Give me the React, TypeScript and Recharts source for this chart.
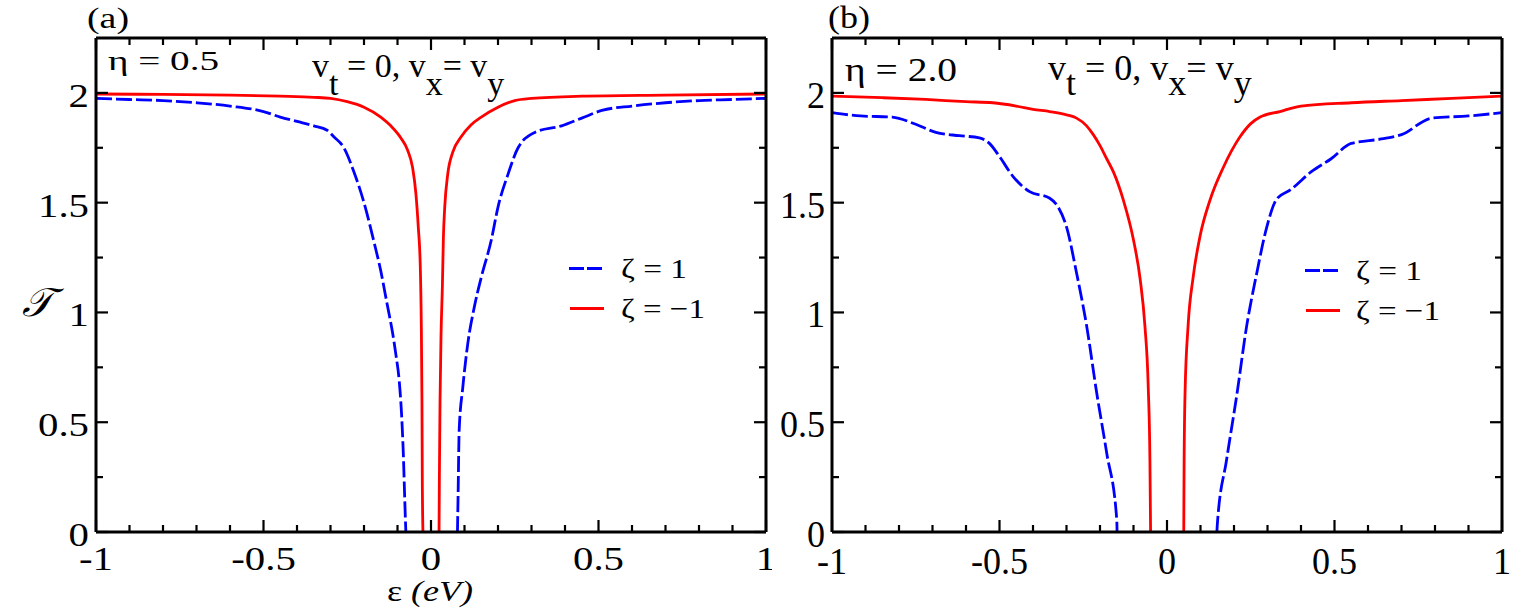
import React from 'react';
import { LineChart, Line, XAxis, YAxis } from 'recharts';

type Pt = [number, number];

const xTicks = [-1, -0.9, -0.8, -0.7, -0.6, -0.5, -0.4, -0.3, -0.2, -0.1, 0, 0.1, 0.2, 0.3, 0.4, 0.5, 0.6, 0.7, 0.8, 0.9, 1];
const yTicks = [0, 0.25, 0.5, 0.75, 1, 1.25, 1.5, 1.75, 2];

// panel (a): eta = 0.5
const aBlueLeft: Pt[] = [[-1.0, 1.975], [-0.9, 1.97], [-0.8, 1.965], [-0.7, 1.955], [-0.6, 1.94], [-0.5, 1.915], [-0.45, 1.89], [-0.4, 1.87], [-0.35, 1.85], [-0.31, 1.83], [-0.29, 1.8], [-0.26, 1.75], [-0.23, 1.64], [-0.2, 1.5], [-0.17, 1.32], [-0.15, 1.19], [-0.13, 1.03], [-0.115, 0.91], [-0.105, 0.81], [-0.095, 0.69], [-0.088, 0.54], [-0.082, 0.33], [-0.079, 0.18], [-0.076, 0.04], [-0.075, 0]];
const aBlueRight: Pt[] = [[0.079, 0], [0.081, 0.18], [0.084, 0.46], [0.095, 0.66], [0.11, 0.86], [0.13, 1.03], [0.15, 1.16], [0.18, 1.33], [0.2, 1.48], [0.23, 1.63], [0.26, 1.75], [0.31, 1.82], [0.39, 1.85], [0.45, 1.885], [0.51, 1.92], [0.6, 1.94], [0.7, 1.955], [0.8, 1.965], [0.9, 1.97], [1.0, 1.975]];
const aRedLeft: Pt[] = [[-1.0, 1.995], [-0.8, 1.993], [-0.6, 1.99], [-0.45, 1.985], [-0.35, 1.98], [-0.3, 1.975], [-0.25, 1.96], [-0.2, 1.935], [-0.15, 1.89], [-0.12, 1.85], [-0.09, 1.795], [-0.07, 1.74], [-0.055, 1.66], [-0.045, 1.54], [-0.038, 1.39], [-0.032, 1.21], [-0.029, 0.95], [-0.027, 0.6], [-0.026, 0.25], [-0.024, 0]];
const aRedRight: Pt[] = [[0.024, 0], [0.025, 0.25], [0.027, 0.6], [0.03, 0.9], [0.034, 1.12], [0.037, 1.34], [0.041, 1.48], [0.05, 1.63], [0.065, 1.73], [0.09, 1.8], [0.12, 1.855], [0.15, 1.89], [0.2, 1.935], [0.25, 1.965], [0.3, 1.975], [0.45, 1.985], [0.7, 1.99], [1.0, 1.995]];

// panel (b): eta = 2.0
const bBlueLeft: Pt[] = [[-1.0, 1.91], [-0.915, 1.895], [-0.82, 1.89], [-0.75, 1.857], [-0.69, 1.82], [-0.62, 1.805], [-0.56, 1.795], [-0.53, 1.77], [-0.5, 1.71], [-0.46, 1.62], [-0.41, 1.55], [-0.35, 1.52], [-0.325, 1.48], [-0.3, 1.39], [-0.27, 1.18], [-0.24, 0.94], [-0.21, 0.635], [-0.18, 0.36], [-0.15, 0.057], [-0.149, 0]];
const bBlueRight: Pt[] = [[0.149, 0], [0.15, 0.03], [0.178, 0.33], [0.208, 0.62], [0.238, 0.94], [0.268, 1.18], [0.298, 1.39], [0.327, 1.515], [0.37, 1.56], [0.43, 1.64], [0.49, 1.7], [0.55, 1.77], [0.64, 1.79], [0.7, 1.81], [0.79, 1.885], [0.9, 1.895], [1.0, 1.91]];
const bRedLeft: Pt[] = [[-1.0, 1.985], [-0.85, 1.978], [-0.72, 1.97], [-0.6, 1.96], [-0.52, 1.955], [-0.45, 1.94], [-0.4, 1.925], [-0.35, 1.915], [-0.3, 1.9], [-0.27, 1.885], [-0.24, 1.85], [-0.22, 1.81], [-0.2, 1.76], [-0.18, 1.7], [-0.16, 1.64], [-0.13, 1.51], [-0.1, 1.33], [-0.08, 1.15], [-0.066, 0.94], [-0.056, 0.66], [-0.051, 0.33], [-0.049, 0]];
const bRedRight: Pt[] = [[0.05, 0], [0.051, 0.3], [0.054, 0.64], [0.063, 0.94], [0.078, 1.16], [0.099, 1.35], [0.128, 1.51], [0.168, 1.66], [0.218, 1.8], [0.25, 1.86], [0.278, 1.89], [0.337, 1.915], [0.4, 1.94], [0.55, 1.955], [0.7, 1.965], [0.85, 1.975], [1.0, 1.985]];

const FONT = '"Liberation Serif", "Times New Roman", serif';
const BLUE = '#0000ff';
const RED = '#ff0000';
const DASH = '16 4';

function branches(left: Pt[], right: Pt[]) {
  return [
    ...left.map(([x, y]) => ({ x, y: y as number | null })),
    { x: 0, y: null as number | null },
    ...right.map(([x, y]) => ({ x, y: y as number | null })),
  ];
}

function isMajor(v: number) {
  return Math.abs(v * 2 - Math.round(v * 2)) < 1e-6;
}

function makeTick(side: 'bottom' | 'top' | 'left' | 'right', fs: number, sx: number, labelDy: number) {
  return (props: any) => {
    const { x, y, payload } = props;
    const v = Number(payload.value);
    const major = isMajor(v);
    const len = major ? 12 : 7;
    let x2 = x, y2 = y;
    if (side === 'bottom') y2 = y - len;
    if (side === 'top') y2 = y + len;
    if (side === 'left') x2 = x + len;
    if (side === 'right') x2 = x - len;
    const label = String(Math.round(v * 100) / 100);
    return (
      <g>
        <line x1={x} y1={y} x2={x2} y2={y2} stroke="#000" strokeWidth={2.2} />
        {major && side === 'bottom' && (
          <text transform={`translate(${x},${y + labelDy}) scale(${sx},1)`} textAnchor="middle" fontSize={fs} fontFamily={FONT} fill="#000">{label}</text>
        )}
        {major && side === 'left' && (
          <text transform={`translate(${x - 7},${y + labelDy}) scale(${sx},1)`} textAnchor="end" fontSize={fs} fontFamily={FONT} fill="#000">{label}</text>
        )}
      </g>
    );
  };
}

type PanelProps = {
  left: number; width: number; plotLeft: number; plotRight: number;
  blueL: Pt[]; blueR: Pt[]; redL: Pt[]; redR: Pt[];
  fs: number; sx: number; xDy: number; yDy: number;
};

function Panel(p: PanelProps) {
  const axisLine = { stroke: '#000', strokeWidth: 3 };
  return (
    <div style={{ position: 'absolute', left: p.left, top: 0, width: p.width, height: 612 }}>
      <LineChart width={p.width} height={612} margin={{ top: 28, right: p.width - p.plotRight - 6, bottom: 40, left: p.plotLeft - 60 }}>
        <XAxis xAxisId="b" type="number" dataKey="x" domain={[-1, 1]} allowDataOverflow ticks={xTicks} interval={0}
          orientation="bottom" height={40} tickSize={0} tickMargin={0} tickLine={false} axisLine={axisLine}
          tick={makeTick('bottom', p.fs, p.sx, p.xDy)} />
        <XAxis xAxisId="t" type="number" dataKey="x" domain={[-1, 1]} allowDataOverflow ticks={xTicks} interval={0}
          orientation="top" height={10} tickSize={0} tickMargin={0} tickLine={false} axisLine={axisLine}
          tick={makeTick('top', p.fs, p.sx, 0)} />
        <YAxis yAxisId="l" type="number" domain={[0, 2.25]} allowDataOverflow ticks={yTicks} interval={0}
          orientation="left" width={60} tickSize={0} tickMargin={0} tickLine={false} axisLine={axisLine}
          tick={makeTick('left', p.fs, p.sx, p.yDy)} />
        <YAxis yAxisId="r" type="number" domain={[0, 2.25]} allowDataOverflow ticks={yTicks} interval={0}
          orientation="right" width={6} tickSize={0} tickMargin={0} tickLine={false} axisLine={axisLine}
          tick={makeTick('right', p.fs, p.sx, 0)} />
        <Line xAxisId="b" yAxisId="l" data={branches(p.blueL, p.blueR)} dataKey="y" type="monotone" stroke={BLUE}
          strokeWidth={2.8} strokeDasharray={DASH} dot={false} activeDot={false} isAnimationActive={false} connectNulls={false} />
        <Line xAxisId="b" yAxisId="l" data={branches(p.redL, p.redR)} dataKey="y" type="monotone" stroke={RED}
          strokeWidth={2.8} dot={false} activeDot={false} isAnimationActive={false} connectNulls={false} />
      </LineChart>
    </div>
  );
}

function Annotations() {
  const t = { fontFamily: FONT, fill: '#000' } as const;
  return (
    <svg width={1524} height={612} style={{ position: 'absolute', left: 0, top: 0, pointerEvents: 'none' }}>
      {/* panel (a) */}
      <text x={87} y={28} fontSize={29} textLength={42} lengthAdjust="spacingAndGlyphs" {...t}>(a)</text>
      <text x={108} y={70} fontSize={28} textLength={111} lengthAdjust="spacingAndGlyphs" {...t}>η = 0.5</text>
      <text x={312} y={77} fontSize={34} {...t}>v<tspan dy={18}>t</tspan><tspan dy={-18}> = 0, v</tspan><tspan dy={18}>x</tspan><tspan dy={-18}>= v</tspan><tspan dy={18}>y</tspan></text>
      <line x1={569} y1={268.5} x2={602} y2={268.5} stroke={BLUE} strokeWidth={2.8} strokeDasharray="15 3" />
      <line x1={570} y1={308.5} x2={604} y2={308.5} stroke={RED} strokeWidth={2.8} />
      <text x={621} y={278} fontSize={28} textLength={66} lengthAdjust="spacingAndGlyphs" {...t}>ζ = 1</text>
      <text x={621} y={318} fontSize={28} textLength={84} lengthAdjust="spacingAndGlyphs" {...t}>ζ = −1</text>
      <text x={22} y={316} fontSize={40} fontStyle="italic" {...t}>𝒯</text>
      <text transform="translate(387,601) scale(1.2,1)" fontSize={30} {...t}>ε <tspan fontStyle="italic">(eV)</tspan></text>
      {/* panel (b) */}
      <text x={828} y={28} fontSize={31} textLength={42} lengthAdjust="spacingAndGlyphs" {...t}>(b)</text>
      <text x={845} y={81} fontSize={33} textLength={112} lengthAdjust="spacingAndGlyphs" {...t}>η = 2.0</text>
      <text x={1048} y={80} fontSize={36} {...t}>v<tspan dy={15}>t</tspan><tspan dy={-15}> = 0, v</tspan><tspan dy={15}>x</tspan><tspan dy={-15}>= v</tspan><tspan dy={15}>y</tspan></text>
      <line x1={1305} y1={270.5} x2={1338} y2={270.5} stroke={BLUE} strokeWidth={2.8} strokeDasharray="15 3" />
      <line x1={1306} y1={310.5} x2={1340} y2={310.5} stroke={RED} strokeWidth={2.8} />
      <text x={1356} y={280} fontSize={28} textLength={66} lengthAdjust="spacingAndGlyphs" {...t}>ζ = 1</text>
      <text x={1356} y={320} fontSize={28} textLength={84} lengthAdjust="spacingAndGlyphs" {...t}>ζ = −1</text>
    </svg>
  );
}

export default function App() {
  return (
    <div style={{ position: 'absolute', left: 0, top: 0, width: 1524, height: 612, background: '#fff', overflow: 'hidden' }}>
      <Panel left={0} width={772} plotLeft={96} plotRight={766}
        blueL={aBlueLeft} blueR={aBlueRight} redL={aRedLeft} redR={aRedRight}
        fs={34} sx={1.2} xDy={38} yDy={14} />
      <Panel left={772} width={752} plotLeft={60} plotRight={730}
        blueL={bBlueLeft} blueR={bBlueRight} redL={bRedLeft} redR={bRedRight}
        fs={38} sx={0.95} xDy={42} yDy={15} />
      <Annotations />
    </div>
  );
}
